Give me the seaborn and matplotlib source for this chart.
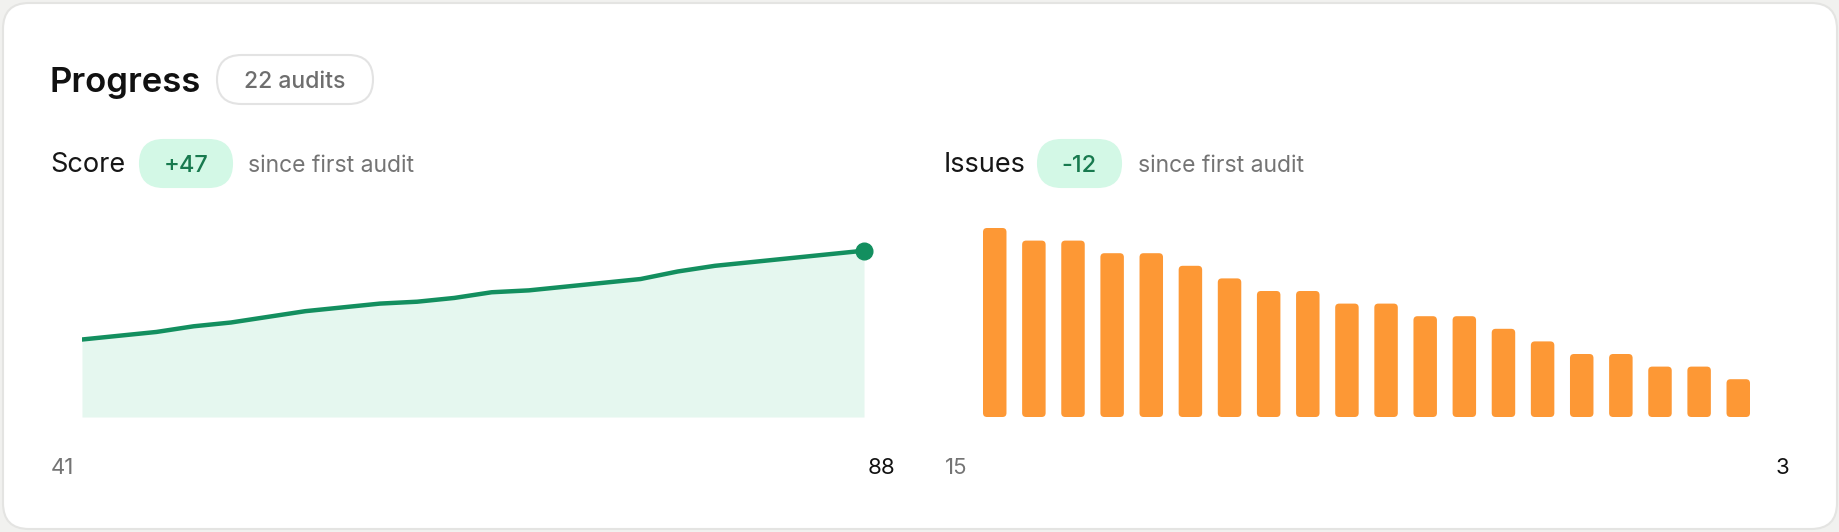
import matplotlib
matplotlib.use("Agg")
import matplotlib.pyplot as plt
from matplotlib.patches import FancyBboxPatch
import seaborn as sns

# 데이터 - 점수(감사 22회)와 이슈 개수(20개 막대)
audit_no = list(range(1, 23))
score = [41, 43, 45, 48, 50, 53, 56, 58, 60, 61, 63, 66,
         67, 69, 71, 73, 77, 80, 82, 84, 86, 88]
issue_no = list(range(1, 21))
issues = [15, 14, 14, 13, 13, 12, 11, 10, 10, 9,
          9, 8, 8, 7, 6, 5, 5, 4, 4, 3]

title = "Progress"
score_title = "Score"
issues_title = "Issues"
since_text = "since first audit"

sns.set_theme(style="white")
plt.rcParams['font.family'] = ['Inter', 'DejaVu Sans']

GREEN = "#138f5f"
FILL = "#e5f7ef"
ORANGE = "#fd9835"
GRAY = "#747474"
PILL_GREEN = "#d3f8e6"
PILL_TEXT = "#187a4f"

W, H = 1840, 532
fig = plt.figure(figsize=(W / 100, H / 100), dpi=100)
fig.patch.set_facecolor("#f1f1ef")

# 배경 카드 - 픽셀 좌표로 쓰는 축
bg = fig.add_axes([0, 0, 1, 1], zorder=0)
bg.set_xlim(0, W)
bg.set_ylim(H, 0)
bg.axis('off')
bg.add_patch(FancyBboxPatch((3, 3), W - 6, H - 6,
                            boxstyle="round,pad=0,rounding_size=26",
                            fc="white", ec="#e4e4e2", lw=1.5))


def pill(x, y, w, h, text, cx, fc, ec, tc, size, weight):
    bg.add_patch(FancyBboxPatch((x, y), w, h,
                                boxstyle=f"round,pad=0,rounding_size={h / 2}",
                                fc=fc, ec=ec, lw=1.5))
    bg.text(cx, y + h / 2, text, ha='center', va='center_baseline',
            fontsize=size, color=tc, weight=weight)


# 제목과 배지
bg.text(50, 92, title, fontsize=25, weight='semibold', color="#111111", va='baseline')
pill(217, 55, 156, 49, f"{len(score)} audits", 295, "white", "#e3e3e3", "#6e6e6e", 16.5, 'medium')

# 점수 헤더
bg.text(50, 172, score_title, fontsize=19.5, color="#161616", va='baseline')
pill(140, 140, 92, 47, f"{score[-1] - score[0]:+d}", 186, PILL_GREEN, PILL_GREEN, PILL_TEXT, 17, 'medium')
bg.text(248, 172, since_text, fontsize=16.5, color=GRAY, va='baseline')

# 이슈 헤더
bg.text(944, 172, issues_title, fontsize=19.5, color="#161616", va='baseline')
pill(1038, 140, 83, 47, f"{issues[-1] - issues[0]:+d}", 1079, PILL_GREEN, PILL_GREEN, PILL_TEXT, 17, 'medium')
bg.text(1138, 172, since_text, fontsize=16.5, color=GRAY, va='baseline')

# 처음/마지막 값
bg.text(51, 474, f"{score[0]}", fontsize=16, color=GRAY, va='baseline')
bg.text(895, 474, f"{score[-1]}", fontsize=16, color="#111111", va='baseline', ha='right')
bg.text(945, 474, f"{issues[0]}", fontsize=16, color=GRAY, va='baseline')
bg.text(1789, 474, f"{issues[-1]}", fontsize=16, color="#111111", va='baseline', ha='right')

# 점수 라인 차트
ax1 = fig.add_axes([82 / W, (H - 417) / H, 782 / W, 189 / H], zorder=1)
ax1.patch.set_alpha(0)
ax1.fill_between(audit_no, score, 0, color=FILL, lw=0)
sns.lineplot(x=audit_no, y=score, ax=ax1, color=GREEN, lw=3.2)
ax1.plot(audit_no[-1], score[-1], 'o', ms=12, color=GREEN, clip_on=False)
ax1.set_xlim(audit_no[0], audit_no[-1])
ax1.set_ylim(0, 100)
ax1.axis('off')

# 이슈 막대 차트
ax2 = fig.add_axes([983 / W, (H - 417) / H, 767 / W, 189 / H], zorder=1)
ax2.patch.set_alpha(0)
sns.barplot(x=issue_no, y=issues, ax=ax2, color=ORANGE, saturation=1, width=0.6)
ax2.set_xlim(-0.3, len(issues) - 0.7)
ax2.set_ylim(0, 15)
ax2.axis('off')

# 막대 모서리 둥글게
px_x = 767 / (len(issues) - 0.4)
px_y = 189 / 15
r = 4 / px_x
for p in list(ax2.patches):
    x, y, w, h = p.get_x(), p.get_y(), p.get_width(), p.get_height()
    p.remove()
    ax2.add_patch(FancyBboxPatch((x, y), w, h,
                                 boxstyle=f"round,pad=0,rounding_size={r}",
                                 mutation_aspect=px_x / px_y,
                                 fc=ORANGE, ec='none'))

fig.savefig("out.png", dpi=100, facecolor=fig.get_facecolor())
